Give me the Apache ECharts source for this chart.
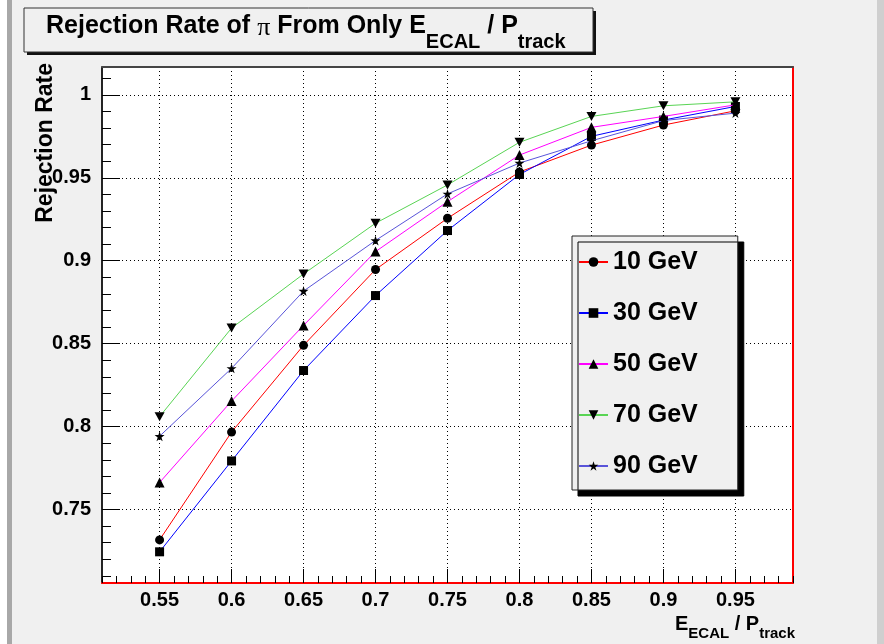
<!DOCTYPE html>
<html>
<head>
<meta charset="utf-8">
<script src="https://cdn.jsdelivr.net/npm/echarts@6/dist/echarts.min.js"></script>
<style>
html,body{margin:0;padding:0;background:#f0f0f0;}
#chart{width:884px;height:644px;}
</style>
</head>
<body>
<div id="chart"></div>
<script>
// ---- data ----
const xValues = [0.55, 0.6, 0.65, 0.7, 0.75, 0.8, 0.85, 0.9, 0.95];
const seriesNames = ['10 GeV', '30 GeV', '50 GeV', '70 GeV', '90 GeV'];
const gev10 = [0.7317, 0.7967, 0.8490, 0.8947, 0.9256, 0.9535, 0.9697, 0.9818, 0.9904];
const gev30 = [0.7245, 0.7793, 0.8338, 0.8790, 0.9182, 0.9520, 0.9750, 0.9848, 0.9930];
const gev50 = [0.7663, 0.8154, 0.8610, 0.9055, 0.9356, 0.9637, 0.9804, 0.9870, 0.9940];
const gev70 = [0.8060, 0.8594, 0.8920, 0.9226, 0.9457, 0.9714, 0.9870, 0.9934, 0.9958];
const gev90 = [0.7942, 0.8351, 0.8817, 0.9122, 0.9403, 0.9589, 0.9723, 0.9845, 0.9890];
const xTickLabels = [0.55, 0.6, 0.65, 0.7, 0.75, 0.8, 0.85, 0.9, 0.95];
const yTickLabels = [0.75, 0.8, 0.85, 0.9, 0.95, 1];

// ---- styles ----
const FONT = '"Liberation Sans", Arial, Helvetica, sans-serif';
const lineColors = ['#ff0000', '#0000ff', '#ff00ff', '#59d454', '#5954d9'];
const symbols = [
  'circle', 'rect', 'triangle',
  'path://M0,0 L10,0 L5,9 Z',
  'path://M5,0 L6.2,3.6 L10,3.6 L6.9,5.9 L8.1,9.5 L5,7.3 L1.9,9.5 L3.1,5.9 L0,3.6 L3.8,3.6 Z'
];
const symbolSizes = [9, 9, 10, [10, 9], 10];
const allSeries = [gev10, gev30, gev50, gev70, gev90];

const X_MIN = 0.51, X_MAX = 0.99;
const Y_MIN = 0.7057, Y_MAX = 1.0168;
const xMinor = []; for (let i = 51; i <= 99; i++) xMinor.push(+(i / 100).toFixed(2));
const yMinor = []; for (let i = 71; i <= 101; i++) yMinor.push(+(i / 100).toFixed(2));

const ctx = document.createElement('canvas').getContext('2d');
function tw(text, size, weight, fam) { ctx.font = weight + ' ' + size + 'px ' + (fam || FONT); return ctx.measureText(text).width; }
function row(parts, x, alignRight) {
  let total = 0;
  parts.forEach(p => { p.w = tw(p.t, p.s, p.b || 'bold', p.f); total += p.w; });
  let cx = alignRight ? x - total : x;
  return parts.map(p => {
    const el = { type: 'text', x: cx, y: p.y, z: 100,
      style: { text: p.t, font: (p.b || 'bold') + ' ' + p.s + 'px ' + (p.f || FONT), fill: '#000', align: 'left', verticalAlign: 'middle' } };
    cx += p.w; return el;
  });
}

const titleParts = row([
  { t: 'Rejection Rate of ', s: 25, y: 26 },
  { t: 'π', s: 26, y: 28, b: 'normal', f: '"Liberation Serif", "DejaVu Serif", serif' },
  { t: ' From Only E', s: 25, y: 26 },
  { t: 'ECAL', s: 20, y: 42 },
  { t: ' / P', s: 25, y: 26 },
  { t: 'track', s: 20, y: 42 }
], 46, false);

const xTitleParts = row([
  { t: 'E', s: 20, y: 624 },
  { t: 'ECAL', s: 15, y: 634 },
  { t: ' / P', s: 20, y: 624 },
  { t: 'track', s: 15, y: 634 }
], 795, true);

const dotted = { color: '#000', width: 1, type: [1, 3] };

const chart = echarts.init(document.getElementById('chart'), null, { renderer: 'canvas' });
const option = {
  animation: false,
  backgroundColor: '#f0f0f0',
  grid: { left: 102, top: 67, right: 91, bottom: 61, show: true, backgroundColor: '#ffffff', borderColor: '#222', borderWidth: 1, containLabel: false },
  xAxis: [
    { type: 'value', min: X_MIN, max: X_MAX, position: 'bottom',
      axisLine: { show: true, onZero: false, lineStyle: { color: '#ff0000', width: 2 } },
      axisTick: { show: true, inside: true, length: 14, customValues: xTickLabels, lineStyle: { color: '#000', width: 1 } },
      axisLabel: { show: true, customValues: xTickLabels, formatter: v => String(+v.toFixed(2)), fontSize: 20, fontWeight: 'bold', fontFamily: FONT, color: '#000', margin: 7 },
      splitLine: { show: true, lineStyle: dotted } },
    { type: 'value', min: X_MIN, max: X_MAX, position: 'bottom',
      axisLine: { show: false }, axisLabel: { show: false }, splitLine: { show: false },
      axisTick: { show: true, inside: true, length: 7, customValues: xMinor, lineStyle: { color: '#000', width: 1 } } },
    { type: 'value', min: X_MIN, max: X_MAX, position: 'top',
      axisLine: { show: true, onZero: false, lineStyle: { color: '#444', width: 2 } },
      axisTick: { show: false }, axisLabel: { show: false }, splitLine: { show: false } }
  ],
  yAxis: [
    { type: 'value', min: Y_MIN, max: Y_MAX, position: 'left',
      axisLine: { show: true, onZero: false, lineStyle: { color: '#000', width: 1.5 } },
      axisTick: { show: true, inside: true, length: 18, customValues: yTickLabels, lineStyle: { color: '#000', width: 1 } },
      axisLabel: { show: true, customValues: yTickLabels, formatter: v => String(+v.toFixed(2)), fontSize: 20, fontWeight: 'bold', fontFamily: FONT, color: '#000', margin: 11 },
      splitLine: { show: true, lineStyle: dotted } },
    { type: 'value', min: Y_MIN, max: Y_MAX, position: 'left',
      axisLine: { show: false }, axisLabel: { show: false }, splitLine: { show: false },
      axisTick: { show: true, inside: true, length: 9, customValues: yMinor, lineStyle: { color: '#000', width: 1 } } },
    { type: 'value', min: Y_MIN, max: Y_MAX, position: 'right',
      axisLine: { show: true, onZero: false, lineStyle: { color: '#ff0000', width: 2 } },
      axisTick: { show: false }, axisLabel: { show: false }, splitLine: { show: false } }
  ],
  legend: {
    show: true, orient: 'vertical', left: 572, top: 236,
    itemWidth: 29, itemHeight: 12, itemGap: 21, padding: [11, 40, 9, 6],
    backgroundColor: '#f0f0f0', borderColor: '#222', borderWidth: 1,
    shadowColor: '#000', shadowOffsetX: 6, shadowOffsetY: 6, shadowBlur: 0,
    textStyle: { fontSize: 25, fontWeight: 'bold', fontFamily: FONT, color: '#000', lineHeight: 30 },
    data: seriesNames
  },
  series: allSeries.map((arr, i) => ({
    type: 'line', name: seriesNames[i], xAxisIndex: 0, yAxisIndex: 0,
    data: xValues.map((x, j) => [x, arr[j]]),
    color: lineColors[i],
    symbol: symbols[i], symbolSize: symbolSizes[i], showAllSymbol: true,
    itemStyle: { color: '#000', borderWidth: 0 },
    lineStyle: { color: lineColors[i], width: 1 },
    emphasis: { disabled: true }, silent: true, z: 10 + i
  })),
  graphic: [
    { type: 'rect', shape: { x: 0, y: 0, width: 7, height: 644 }, style: { fill: '#ffffff' }, z: 50 },
    { type: 'rect', shape: { x: 7, y: 0, width: 5, height: 644 }, style: { fill: '#a8a8a8' }, z: 50 },
    { type: 'rect', shape: { x: 877, y: 0, width: 7, height: 644 }, style: { fill: '#cfcfcf' }, z: 50 },
    { type: 'rect', shape: { x: 27, y: 11, width: 569, height: 44 }, style: { fill: '#111' }, z: 90 },
    { type: 'rect', shape: { x: 24, y: 8, width: 569, height: 44 }, style: { fill: '#f0f0f0', stroke: '#333', lineWidth: 1 }, z: 91 },
    ...titleParts,
    { type: 'text', x: 46, y: 63, rotation: Math.PI / 2, z: 100,
      style: { text: 'Rejection Rate', font: 'bold 23px ' + FONT, fill: '#000', align: 'right', verticalAlign: 'middle' } },
    ...xTitleParts
  ]
};
chart.setOption(option);
</script>
</body>
</html>
